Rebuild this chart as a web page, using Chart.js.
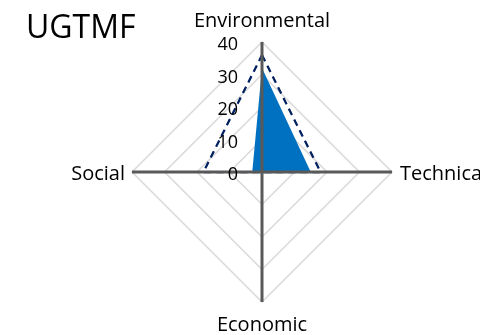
<!DOCTYPE html>
<html>
<head>
<meta charset="utf-8">
<script src="https://cdn.jsdelivr.net/npm/chart.js@4"></script>
<style>
  html, body { margin: 0; padding: 0; background: #fff; }
  canvas { display: block; }
</style>
</head>
<body>
<canvas id="myChart" width="480" height="335"></canvas>
<script>
const ctx = document.getElementById('myChart');

const chartTitle = 'UGTMF';
const categories = ['Environmental', 'Technical', 'Economic', 'Social'];
const filledValues = [32, 15, 0, 3];
const dashedValues = [36, 18, 0, 18];
const tickValues = [0, 10, 20, 30, 40];

const FONT = '"Open Sans", "Liberation Sans", sans-serif';

// axes, tick numbers and labels go on top of the filled area
const overlay = {
  id: 'radarOverlay',
  afterDatasetsDraw: (chart) => {
    const {ctx} = chart;
    const scale = chart.scales.r;
    const cx = scale.xCenter, cy = scale.yCenter;
    ctx.save();

    ctx.strokeStyle = '#595959';
    ctx.lineWidth = 3;
    categories.forEach((c, i) => {
      const p = scale.getPointPositionForValue(i, scale.max);
      ctx.beginPath();
      ctx.moveTo(cx, cy);
      ctx.lineTo(p.x, p.y);
      ctx.stroke();
    });

    ctx.fillStyle = '#000';
    ctx.textBaseline = 'alphabetic';
    ctx.font = '18px ' + FONT;
    ctx.textAlign = 'right';
    tickValues.forEach(v => {
      const d = scale.getDistanceFromCenterForValue(v);
      ctx.fillText(String(v), cx - 24, cy - d + 8);
    });

    ctx.font = '20px ' + FONT;
    const r = scale.drawingArea;
    ctx.textAlign = 'center';
    ctx.fillText(categories[0], cx, cy - r - 15);
    ctx.fillText(categories[2], cx, cy + r + 29);
    ctx.textAlign = 'left';
    ctx.fillText(categories[1], cx + r + 8, cy + 8);
    ctx.textAlign = 'right';
    ctx.fillText(categories[3], cx - r - 7, cy + 8);

    ctx.font = '32px ' + FONT;
    ctx.textAlign = 'left';
    ctx.fillText(chartTitle, 26, 38);
    ctx.restore();
  }
};

const background = {
  id: 'customCanvasBackgroundColor',
  beforeDraw: (chart) => {
    const {ctx} = chart;
    ctx.save();
    ctx.fillStyle = '#fff';
    ctx.fillRect(0, 0, chart.width, chart.height);
    ctx.restore();
  }
};

new Chart(ctx, {
  type: 'radar',
  data: {
    labels: categories,
    datasets: [{
      data: dashedValues,
      fill: false,
      borderColor: '#002060',
      borderWidth: 2.25,
      borderDash: [7, 5],
      pointRadius: 0,
      tension: 0
    }, {
      data: filledValues,
      fill: true,
      backgroundColor: '#0070C0',
      borderWidth: 0,
      pointRadius: 0,
      tension: 0
    }]
  },
  options: {
    responsive: false,
    animation: false,
    layout: { padding: { left: 132, right: 88, top: 42, bottom: 33 } },
    plugins: { legend: { display: false }, tooltip: { enabled: false } },
    scales: {
      r: {
        min: 0,
        max: 40,
        ticks: { stepSize: 10, display: false },
        pointLabels: { display: false },
        angleLines: { display: false },
        grid: { color: '#d9d9d9', lineWidth: 1.5 }
      }
    }
  },
  plugins: [background, overlay]
});
</script>
</body>
</html>
